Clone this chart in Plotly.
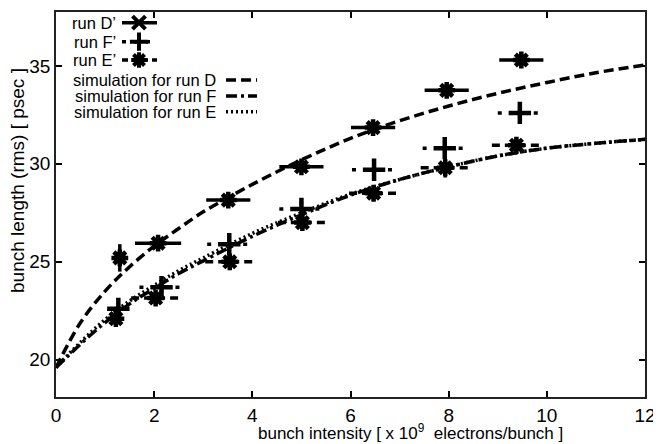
import plotly.graph_objects as go

# ---------------- data ----------------
x_D = [1.30, 2.08, 3.51, 5.00, 6.46, 7.96, 9.48]
y_D = [25.2, 25.95, 28.15, 29.85, 31.85, 33.75, 35.3]
xerr_D = [0.0, 0.47, 0.45, 0.45, 0.45, 0.45, 0.45]
yerr_D = [0.7, 0.3, 0.3, 0.3, 0.3, 0.3, 0.4]

x_F = [1.27, 2.15, 3.53, 5.00, 6.48, 7.92, 9.45]
y_F = [22.6, 23.7, 25.9, 27.7, 29.7, 30.8, 32.6]
xerr_F = [0.0, 0.45, 0.45, 0.45, 0.45, 0.45, 0.45]
yerr_F = [0.6, 0.3, 0.4, 0.4, 0.5, 0.4, 0.3]

x_E = [1.22, 2.03, 3.54, 5.02, 6.47, 7.93, 9.38]
y_E = [22.1, 23.15, 25.0, 27.0, 28.5, 29.8, 30.95]
xerr_E = [0.0, 0.5, 0.5, 0.5, 0.5, 0.5, 0.5]
yerr_E = [0.4, 0.3, 0.3, 0.4, 0.4, 0.5, 0.4]

sim_x = [0, 0.5, 1, 1.5, 2, 2.5, 3, 4, 5, 6, 7, 8, 9, 10, 11, 12]
sim_D = [19.6, 21.9, 23.5, 24.75, 25.8, 26.7, 27.55, 28.95, 30.2, 31.3, 32.2, 32.95, 33.6, 34.15, 34.65, 35.05]
sim_F = [19.6, 20.8, 21.9, 22.85, 23.65, 24.4, 25.05, 26.3, 27.4, 28.4, 29.2, 29.85, 30.4, 30.8, 31.05, 31.25]
sim_E = [19.6, 20.9, 22.05, 23.0, 23.8, 24.55, 25.2, 26.45, 27.5, 28.45, 29.2, 29.85, 30.4, 30.8, 31.05, 31.25]

x_ticks = [0, 2, 4, 6, 8, 10, 12]
y_ticks = [20, 25, 30, 35]

x_title = "bunch intensity [ x 10<sup>9</sup>  electrons/bunch ]"
y_title = "bunch length (rms) [ psec ]"
legend_labels = ["run D\u2019", "run F\u2019", "run E\u2019",
                 "simulation for run D", "simulation for run F", "simulation for run E"]

FONT = "Liberation Sans, Arial, Helvetica, sans-serif"
BLACK = "#000000"

fig = go.Figure()


def segs_h(xs, ys, ex):
    X, Y = [], []
    for x, y, e in zip(xs, ys, ex):
        if e > 0:
            X += [x - e, x + e, None]
            Y += [y, y, None]
    return X, Y


def segs_v(xs, ys, ey):
    X, Y = [], []
    for x, y, e in zip(xs, ys, ey):
        if e > 0:
            X += [x, x, None]
            Y += [y - e, y + e, None]
    return X, Y


# simulation curves
fig.add_trace(go.Scatter(x=sim_x, y=sim_D, mode="lines", line_shape="spline",
                         line=dict(color=BLACK, width=3.5, dash="10px,5px"), showlegend=False))
fig.add_trace(go.Scatter(x=sim_x, y=sim_F, mode="lines", line_shape="spline",
                         line=dict(color=BLACK, width=3.5, dash="11px,4px,3px,4px"), showlegend=False))
fig.add_trace(go.Scatter(x=sim_x, y=sim_E, mode="lines", line_shape="spline",
                         line=dict(color=BLACK, width=3.5, dash="2px,3px"), showlegend=False))

# error bars + markers
styles = {
    "D": dict(xs=x_D, ys=y_D, ex=xerr_D, ey=yerr_D, dash="solid", sym="asterisk-open", size=14),
    "F": dict(xs=x_F, ys=y_F, ex=xerr_F, ey=yerr_F, dash="4px,8px", sym="cross-thin-open", size=16),
    "E": dict(xs=x_E, ys=y_E, ex=xerr_E, ey=yerr_E, dash="8px,5px", sym="asterisk-open", size=14),
}
for k, s in styles.items():
    hx, hy = segs_h(s["xs"], s["ys"], s["ex"])
    vx, vy = segs_v(s["xs"], s["ys"], s["ey"])
    fig.add_trace(go.Scatter(x=hx, y=hy, mode="lines", line=dict(color=BLACK, width=3.5, dash=s["dash"]),
                             showlegend=False))
    fig.add_trace(go.Scatter(x=vx, y=vy, mode="lines", line=dict(color=BLACK, width=3.5, dash=s["dash"]),
                             showlegend=False))
    fig.add_trace(go.Scatter(x=s["xs"], y=s["ys"], mode="markers",
                             marker=dict(symbol=s["sym"], size=s["size"], color=BLACK,
                                         line=dict(color=BLACK, width=4.5)),
                             showlegend=False))

# ---------------- gnuplot-like key (overlay axes 0..1 over the plot area) ----------------
# plot area in screenshot px: x 56..645, y 12..397
def px_x(p):
    return (p - 56) / 589.0


def px_y(p):
    return (397 - p) / 385.0


key_rows = [22.7, 41.7, 60.0, 80.0, 96.0, 111.7]
key_text_right = [118, 118, 118, 218, 218, 218]
key_sample = [(122, 157), (122, 157), (122, 157), (226, 257), (226, 257), (226, 257)]
key_dash = ["solid", "4px,8px", "6px,4px", "10px,5px", "11px,4px,3px,4px", "2px,3px"]
key_sym = ["x-thin-open", "cross-thin-open", "asterisk-open", None, None, None]

for i, lab in enumerate(legend_labels):
    fig.add_annotation(x=px_x(key_text_right[i]), y=px_y(key_rows[i]), xref="paper", yref="paper",
                       text=lab, showarrow=False, xanchor="right", yanchor="middle",
                       font=dict(family=FONT, size=16.5, color=BLACK))
    a, b = key_sample[i]
    fig.add_trace(go.Scatter(x=[px_x(a), px_x(b)], y=[px_y(key_rows[i])] * 2, mode="lines",
                             line=dict(color=BLACK, width=3.5, dash=key_dash[i]),
                             xaxis="x2", yaxis="y2", showlegend=False, hoverinfo="skip"))
    if key_sym[i]:
        fig.add_trace(go.Scatter(x=[px_x(139)], y=[px_y(key_rows[i])], mode="markers",
                                 marker=dict(symbol=key_sym[i], size=13, color=BLACK,
                                             line=dict(color=BLACK, width=4)),
                                 xaxis="x2", yaxis="y2", showlegend=False, hoverinfo="skip"))

# axis titles
fig.add_annotation(x=px_x(410), y=px_y(432), xref="paper", yref="paper",
                   text=x_title, showarrow=False, xanchor="center", yanchor="middle",
                   font=dict(family=FONT, size=17, color=BLACK))
fig.add_annotation(x=px_x(17), y=px_y(181), xref="paper", yref="paper",
                   text=y_title, showarrow=False, textangle=-90, xanchor="center", yanchor="middle",
                   font=dict(family=FONT, size=19, color=BLACK))

# figure is 8px smaller than the window to allow for the default page body margin
W, H, OFF = 653, 436, 8
fig.update_layout(
    width=W, height=H,
    margin=dict(l=56 - OFF, r=W - (645 - OFF), t=12 - OFF, b=H - (397 - OFF), autoexpand=False),
    paper_bgcolor="white", plot_bgcolor="white",
    font=dict(family=FONT, size=17, color=BLACK),
    showlegend=False,
    xaxis=dict(range=[0, 12], tickvals=x_ticks, ticktext=[str(v) for v in x_ticks],
               ticks="inside", ticklen=6, tickwidth=1.5, tickcolor=BLACK,
               showline=True, linecolor="#222", linewidth=1.5, mirror="ticks",
               showgrid=False, zeroline=False, automargin=False,
               tickfont=dict(family=FONT, size=19, color=BLACK)),
    yaxis=dict(range=[18.1, 37.75], tickvals=y_ticks, ticktext=[str(v) for v in y_ticks],
               ticks="inside", ticklen=6, tickwidth=1.5, tickcolor=BLACK,
               showline=True, linecolor="#222", linewidth=1.5, mirror="ticks",
               showgrid=False, zeroline=False, automargin=False,
               tickfont=dict(family=FONT, size=19, color=BLACK)),
    xaxis2=dict(range=[0, 1], overlaying="x", visible=False, fixedrange=True, automargin=False),
    yaxis2=dict(range=[0, 1], overlaying="y", visible=False, fixedrange=True, automargin=False),
)

fig.write_html("out.html")
